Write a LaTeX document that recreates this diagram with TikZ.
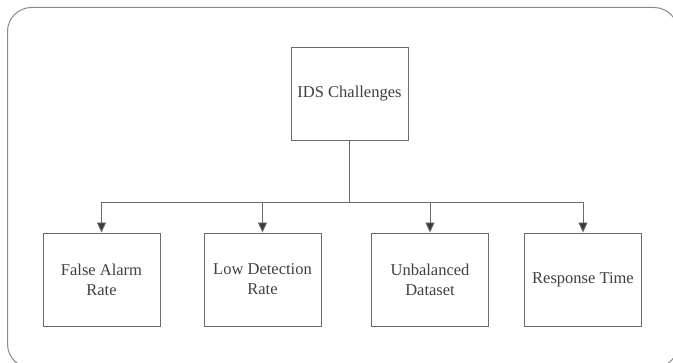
\documentclass[tikz,border=0pt]{standalone}
\usepackage{fontspec}
\setmainfont{Liberation Serif}
\usetikzlibrary{arrows.meta}
\definecolor{boxline}{HTML}{6A6A6A}
\definecolor{frameline}{HTML}{8A8A8A}
\definecolor{txt}{HTML}{404040}
\definecolor{arr}{HTML}{3A3A3A}
\begin{document}
\begin{tikzpicture}[x=1pt,y=-1pt,
  cbox/.style={draw=boxline, line width=0.9pt, minimum width=117pt, minimum height=93pt,
    inner sep=0pt, align=center, text=txt,
    font=\fontsize{16.5}{20}\selectfont},
  conn/.style={draw=boxline, line width=0.9pt},
  arrconn/.style={draw=boxline, line width=0.9pt, -{Triangle[width=9pt,length=10pt,fill=arr]}}
]
\useasboundingbox (0,0) rectangle (673,363);
% outer frame
\draw[frameline, line width=1pt, rounded corners=24pt] (7.5,7.5) rectangle (678,368);
% nodes
\node[cbox] (top) at (349.5,93.5) {IDS Challenges};
\node[cbox] (b1) at (101.5,279.5) {False Alarm\\Rate};
\node[cbox] (b2) at (262.5,279.5) {Low Detection\\Rate};
\node[cbox] (b3) at (430,279.5) {Unbalanced\\Dataset};
\node[cbox] (b4) at (583,279.5) {Response Time};
% connectors
\coordinate (j) at (349.5,202);
\draw[conn] (top.south) -- (j);
\draw[conn] (b1.north |- j) -- (b4.north |- j);
\draw[arrconn] (b1.north |- j) -- (b1.north);
\draw[arrconn] (b2.north |- j) -- (b2.north);
\draw[arrconn] (b3.north |- j) -- (b3.north);
\draw[arrconn] (b4.north |- j) -- (b4.north);
\end{tikzpicture}
\end{document}
